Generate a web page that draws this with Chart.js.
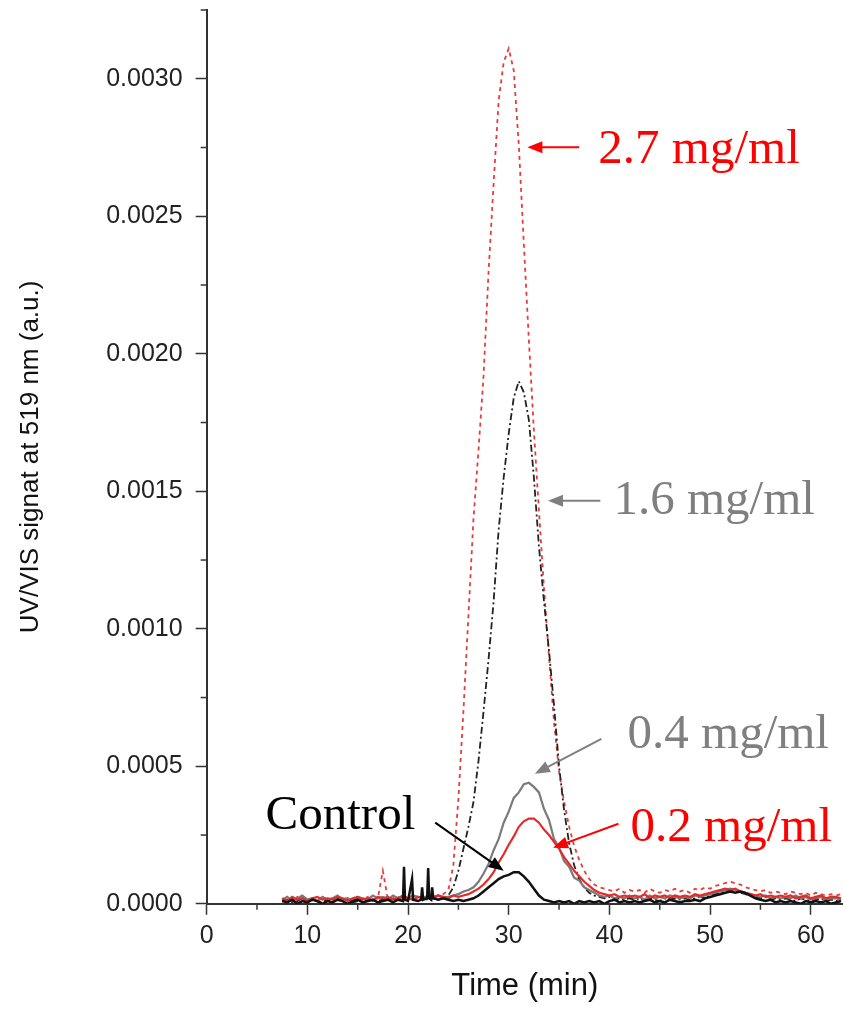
<!DOCTYPE html>
<html><head><meta charset="utf-8">
<script src="https://cdn.jsdelivr.net/npm/chart.js@4.4.1/dist/chart.umd.min.js"></script>
<style>html,body{margin:0;padding:0;background:#fff;}#wrap{width:843px;height:1009px;}</style>
</head><body><div id="wrap"><canvas id="c" width="843" height="1009"></canvas></div>
<script>
// Time axis (min) shared by the four concentration traces
const times = [
 7.5,8,8.5,9,9.5,10,10.5,11,11.5,12,
 12.5,13,13.5,14,14.5,15,15.5,16,16.5,17,
 17.5,18,18.5,19,19.5,20,20.5,21,21.5,22,
 22.5,23,23.5,24,24.5,25,25.5,26,26.5,27,
 27.5,28,28.5,29,29.5,30,30.5,31,31.5,32,
 32.5,33,33.5,34,34.5,35,35.5,36,36.5,37,
 37.5,38,38.5,39,39.5,40,40.5,41,41.5,42,
 42.5,43,43.5,44,44.5,45,45.5,46,46.5,47,
 47.5,48,48.5,49,49.5,50,50.5,51,51.5,52,
 52.5,53,53.5,54,54.5,55,55.5,56,56.5,57,
 57.5,58,58.5,59,59.5,60,60.5,61,61.5,62,
 62.5,63];
// UV/VIS signal, units of 1e-5 a.u.
const conc27 = [
 1.5,2,1,2.5,1,2,1.5,0.5,2,1.5,
 2,1,2.5,1.5,1,2,1.5,2.5,1.5,2,
 12,1.5,2,2.5,1.5,2,3,2,2.5,3,
 2.5,3,3.5,5,14,38,70,105,140,165,
 192,230,262,292,306,311,303,276,240,205,
 172,143,115,90,66,48,37,28,21,16,
 12,9,7,6,5.5,5,4.5,5.5,4,5,
 4.5,5,4,5.5,4.5,4,5,4.5,5.5,4.5,
 5,4,5.5,5,6,5.5,6.5,7,7.5,8,
 7.5,7,6,5.5,5,4.5,5,4,4.5,4,
 3.5,4.5,4,3.5,4,3,4,3.5,3,3.5,
 3,3.5];
const conc16 = [
 1,1.5,0.5,1,2,1,1.5,1,0.5,1.5,
 1,2,1,1.5,0.5,1,2,1,1.5,1,
 1.5,1,2,1.5,1,2,1.5,1,2,1.5,
 2,1.5,2,3,6,12,20,28,37,52,
 70,89,110,136,155,171,184,190,186,176,
 155,130,110,92,72,50,34,22,14,9,
 6,4,3,2.5,2,2.5,1.5,2,1.5,2,
 1.5,2,1,2,1.5,1,2,1.5,2,1.5,
 2,1.5,2,2.5,2,3,3.5,4,4.5,5,
 4.5,4,3.5,3,2.5,2,2.5,1.5,2,1.5,
 2,1.5,1,2,1.5,1,1.5,2,1,1.5,
 1,1.5];
const conc04 = [
 1.5,2.5,1,2,3,1.5,2,1,2.5,1.5,
 2,3,1.5,2,1,2.5,2,1.5,3,2,
 2.5,1.5,3,2,2.5,2,3,2.5,2,3,
 2.5,3,2,2.5,3,3.5,4.5,5,6,8,
 11,14.5,19.5,23.5,29.5,33.5,38.5,40.5,43.5,44,
 42.5,40.5,34.5,30.5,23.5,20.5,15.5,13.5,9.5,8.5,
 6,5,4,3,2.5,3,2,2.5,2,3,
 2,2.5,1.5,3,2,2.5,2,3,2.5,2,
 2.5,2,3,2.5,3,3.5,4,4.5,5,5.5,
 5,4.5,4,3.5,3,2.5,3,2,2.5,2,
 2.5,2,3,2,2.5,1.5,2,2.5,1.5,2,
 2,1.5];
const conc02 = [
 2,1,2.5,1.5,2,1,2,2.5,1.5,2,
 1.5,2.5,2,1,2,2.5,1.5,2,1,2.5,
 2,2.5,1.5,2,3,2,1.5,2.5,2,2.5,
 2,3,2.5,2,3,2.5,3,3.5,4.5,5.5,
 7,9,11.5,15,18,21.5,24.5,28,30,31,
 31,29.5,27,25,22.5,20,17,14.5,12,10,
 8,6.5,5,4,3.5,3,3.5,2.5,3,2.5,
 3,2.5,3.5,2,3,2.5,3,2,3,2.5,
 3,2.5,3.5,3,3.5,4,4.5,5,5.5,5,
 5.5,4.5,4,3.5,3,3.5,2.5,3,2.5,3,
 2.5,3,2,2.5,3,2,2.5,3,2,2.5,
 2.5,2];
// Control trace has its own time points (includes narrow spikes near 20 min)
const controlTimes = [
 7.5,8,8.5,9,9.5,10,10.5,11,11.5,12,
 12.5,13,13.5,14,14.5,15,15.5,16,16.5,17,
 17.5,18,18.5,19,19.5,19.6,19.7,20,20.4,20.5,
 21,21.3,21.4,21.5,21.9,22,22.1,22.3,22.4,22.5,
 23,23.5,24,24.5,25,25.5,26,26.5,27,27.5,
 28,28.5,29,29.5,30,30.5,31,31.5,32,32.5,
 33,33.5,34,34.5,35,35.5,36,36.5,37,37.5,
 38,38.5,39,39.5,40,40.5,41,41.5,42,42.5,
 43,43.5,44,44.5,45,45.5,46,46.5,47,47.5,
 48,48.5,49,49.5,50,50.5,51,51.5,52,52.5,
 53,53.5,54,54.5,55,55.5,56,56.5,57,57.5,
 58,58.5,59,59.5,60,60.5,61,61.5,62,62.5,
 63];
const control = [
 1,0.5,1.5,0,1,0.5,1.5,1,0,1,
 0.5,1.5,1,0,1,1.5,0.5,1,1.5,0.5,
 1,1.5,0.5,1.5,1,13.5,1.5,1,9,1.5,
 1,1.5,6,1.5,2,13,2,1.5,6,2,
 1.5,2,1.5,1,1.5,1,1.5,2,3,4.5,
 6,7.5,9,10,10.5,11.5,11.5,10,8,5.5,
 3,1.5,1,0.5,1,0.5,1,0,1,0.5,
 1,0.5,1,0,1,1.5,0.5,1,0.5,1,
 0.5,1,1.5,0.5,1,0.5,1.5,1,0.5,1,
 1,1.5,1,2,2.5,3,3.5,4,4.5,4,
 4.5,4,3,2,1.5,1,1.5,0.5,1,0.5,
 1,0.5,0,1,0.5,1,0.5,1,0,0.5,
 1];
const xTickValues = [0,10,20,30,40,50,60];
const xMinorValues = [5,15,25,35,45,55];
const yTickValues = [0,50,100,150,200,250,300];
const yTickLabels = ['0.0000','0.0005','0.0010','0.0015','0.0020','0.0025','0.0030'];
const yMinorValues = [25,75,125,175,225,275,325];
const annotationTexts = ['2.7 mg/ml','1.6 mg/ml','0.4 mg/ml','0.2 mg/ml','Control'];
const annotationColors = ['#ff0000','#7f7f7f','#7f7f7f','#ff0000','#000000'];
// anchor positions in data units: [textX, textY, arrowFromX, arrowFromY, arrowTipX, arrowTipY]
const annotationAnchors = [
 [38.9,269.3, 37.0,275.1, 31.85,275.1],
 [40.4,141.9, 39.1,146.6, 33.9,146.6],
 [41.8,56.8, 39.2,60.0, 32.6,47.3],
 [42.1,22.9, 40.9,29.1, 34.4,20.4],
 [5.85,27.3, 22.7,29.5, 29.5,12.0]
];

const pts = (xs, ys) => xs.map((x, i) => ({x: x, y: ys[i]}));

const decorations = {
  id: 'decorations',
  afterDraw(chart) {
    const ctx = chart.ctx, xs = chart.scales.x, ys = chart.scales.y;
    const ax = chart.chartArea.left, ay = chart.chartArea.bottom;
    ctx.save();
    ctx.strokeStyle = '#333'; ctx.lineWidth = 1.5;
    xMinorValues.forEach(v => { const p = xs.getPixelForValue(v); ctx.beginPath(); ctx.moveTo(p, ay); ctx.lineTo(p, ay + 6); ctx.stroke(); });
    yMinorValues.forEach(v => { const p = ys.getPixelForValue(v); ctx.beginPath(); ctx.moveTo(ax, p); ctx.lineTo(ax - 6, p); ctx.stroke(); });
    annotationTexts.forEach((t, i) => {
      const a = annotationAnchors[i], col = annotationColors[i];
      ctx.fillStyle = col; ctx.strokeStyle = col;
      ctx.font = '49px "Liberation Serif"'; ctx.textBaseline = 'alphabetic'; ctx.textAlign = 'left';
      ctx.fillText(t, xs.getPixelForValue(a[0]), ys.getPixelForValue(a[1]));
      const x1 = xs.getPixelForValue(a[2]), y1 = ys.getPixelForValue(a[3]);
      const x2 = xs.getPixelForValue(a[4]), y2 = ys.getPixelForValue(a[5]);
      const ang = Math.atan2(y2 - y1, x2 - x1), hl = 15, hw = 6;
      const c = Math.cos(ang), s = Math.sin(ang);
      ctx.lineWidth = 2;
      ctx.beginPath(); ctx.moveTo(x1, y1); ctx.lineTo(x2 - hl * 0.8 * c, y2 - hl * 0.8 * s); ctx.stroke();
      ctx.beginPath(); ctx.moveTo(x2, y2);
      ctx.lineTo(x2 - hl * c + hw * s, y2 - hl * s - hw * c);
      ctx.lineTo(x2 - hl * c - hw * s, y2 - hl * s + hw * c);
      ctx.closePath(); ctx.fill();
    });
    ctx.restore();
  }
};

new Chart(document.getElementById('c'), {
  type: 'line',
  data: {
    datasets: [
      {label: 'Control', data: pts(controlTimes, control), borderColor: '#111', borderWidth: 2.5},
      {label: '0.2 mg/ml', data: pts(times, conc02), borderColor: '#e32b2b', borderWidth: 2.2},
      {label: '0.4 mg/ml', data: pts(times, conc04), borderColor: '#7a7a7a', borderWidth: 2.2},
      {label: '1.6 mg/ml', data: pts(times, conc16), borderColor: '#222', borderWidth: 1.8, borderDash: [7, 3, 2, 3]},
      {label: '2.7 mg/ml', data: pts(times, conc27), borderColor: '#e53c3c', borderWidth: 1.8, borderDash: [4, 4]}
    ]
  },
  options: {
    responsive: false, animation: false, devicePixelRatio: 1,
    elements: {point: {radius: 0}, line: {tension: 0, fill: false}},
    layout: {padding: {left: 0, right: 0, top: 10, bottom: 0}},
    plugins: {legend: {display: false}, tooltip: {enabled: false}},
    scales: {
      x: {
        type: 'linear', min: 0, max: 63.2,
        afterBuildTicks: s => { s.ticks = xTickValues.map(v => ({value: v})); },
        afterFit: s => { s.paddingLeft = 0; s.paddingRight = 0; },
        ticks: {font: {family: 'Liberation Sans', size: 25}, color: '#222', padding: 6, maxRotation: 0, autoSkip: false},
        grid: {drawOnChartArea: false, drawTicks: true, tickLength: 11, tickColor: '#333', tickWidth: 1.5},
        border: {color: '#333', width: 2},
        title: {display: true, text: 'Time (min)', font: {family: 'Liberation Sans', size: 31}, color: '#111', padding: {top: 11, bottom: 4}}
      },
      y: {
        type: 'linear', min: 0, max: 325,
        afterBuildTicks: s => { s.ticks = yTickValues.map(v => ({value: v})); },
        afterFit: s => { s.paddingTop = 0; s.paddingBottom = 0; },
        ticks: {font: {family: 'Liberation Sans', size: 25}, color: '#222', padding: 13, autoSkip: false,
          callback: (v) => yTickLabels[yTickValues.indexOf(v)]},
        grid: {drawOnChartArea: false, drawTicks: true, tickLength: 11, tickColor: '#333', tickWidth: 1.5},
        border: {color: '#333', width: 2},
        title: {display: true, text: 'UV/VIS signat at 519 nm (a.u.)', font: {family: 'Liberation Sans', size: 26}, color: '#111', padding: {top: 15, bottom: 47}}
      }
    }
  },
  plugins: [decorations]
});
</script></body></html>
